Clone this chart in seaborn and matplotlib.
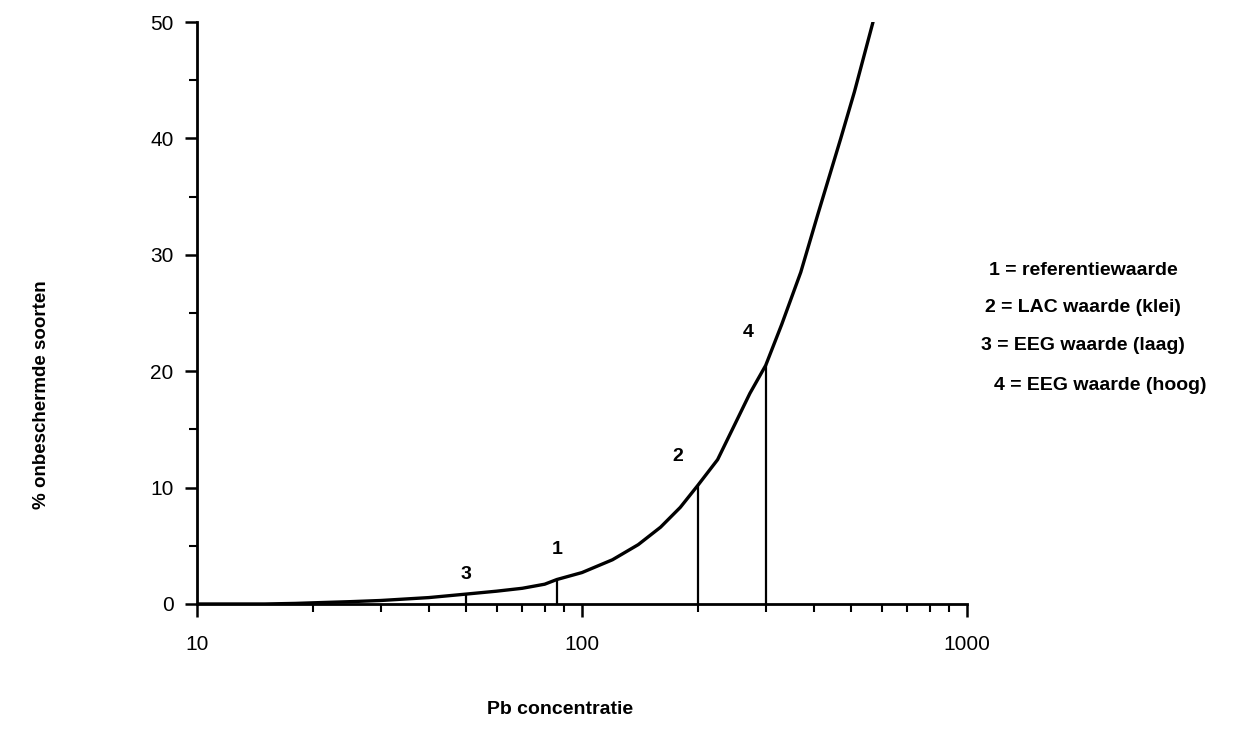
import matplotlib
matplotlib.use("Agg")
import matplotlib.pyplot as plt
import seaborn as sns
import numpy as np
import pandas as pd
from matplotlib.ticker import FixedLocator, NullFormatter

# ---- data ----
pb_conc = [10, 15, 18, 20, 25, 30, 40, 50, 60, 70, 80, 86, 100, 120, 140, 160, 180,
           200, 225, 250, 273, 300, 330, 370, 410, 470, 510, 570]
pct_unprotected = [0, 0, 0.05, 0.1, 0.2, 0.3, 0.55, 0.85, 1.1, 1.35, 1.7, 2.1, 2.7, 3.8,
                   5.1, 6.6, 8.3, 10.2, 12.4, 15.5, 18.1, 20.5, 24.0, 28.5, 33.5, 40.0, 44.0, 50.0]

marker_ids = ["1", "2", "3", "4"]
marker_x = [86, 200, 50, 300]
marker_y = [2.1, 10.2, 0.85, 20.5]
label_x = [86, 177, 50, 270]
label_y = [4.7, 12.7, 2.5, 23.3]

legend_lines = ["1 = referentiewaarde", "2 = LAC waarde (klei)",
                "3 = EEG waarde (laag)", "4 = EEG waarde (hoog)"]

y_ticks = [0, 10, 20, 30, 40, 50]
x_ticks = [10, 100, 1000]
x_tick_labels = ["10", "100", "1000"]

# ---- style ----
sns.set_style("ticks")
plt.rcParams['font.family'] = ['Liberation Sans', 'DejaVu Sans']
plt.rcParams['text.color'] = 'black'

fig = plt.figure(figsize=(12.5, 7.39), dpi=100)
ax = fig.add_axes([0.1576, 0.1827, 0.7736 - 0.1576, 0.9702 - 0.1827])

df = pd.DataFrame({"Pb": pb_conc, "pct": pct_unprotected})
sns.lineplot(data=df, x="Pb", y="pct", ax=ax, color="black", linewidth=2.4,
             estimator=None, sort=True)

for mx, my in zip(marker_x, marker_y):
    ax.vlines(mx, 0, my, color="black", linewidth=1.6)

for t, lx, ly in zip(marker_ids, label_x, label_y):
    ax.text(lx, ly, t, ha="center", va="center", fontsize=14, fontweight="bold",
            color="black")

ax.set_xscale("log")
ax.set_xlim(10, 1000)
ax.set_ylim(0, 50)
ax.set_xticks(x_ticks)
ax.set_xticklabels(x_tick_labels, fontsize=15)
ax.xaxis.set_minor_locator(FixedLocator([20, 30, 40, 50, 60, 70, 80, 90,
                                          200, 300, 400, 500, 600, 700, 800, 900]))
ax.xaxis.set_minor_formatter(NullFormatter())
ax.set_yticks(y_ticks)
ax.set_yticklabels([str(v) for v in y_ticks], fontsize=15)
ax.yaxis.set_minor_locator(FixedLocator([5, 15, 25, 35, 45]))

ax.tick_params(axis="both", which="major", direction="out", length=9, width=1.8,
               color="black", labelcolor="black")
ax.tick_params(axis="both", which="minor", direction="out", length=6, width=1.5,
               color="black")
ax.tick_params(axis="x", which="major", pad=13)
ax.tick_params(axis="y", which="major", pad=8)

for s in ["top", "right"]:
    ax.spines[s].set_visible(False)
for s in ["left", "bottom"]:
    ax.spines[s].set_linewidth(2.0)
    ax.spines[s].set_color("black")

ax.set_xlabel("")
ax.set_ylabel("")

fig.text(560 / 1250, 1 - 710 / 739, "Pb concentratie", ha="center", va="center",
         fontsize=14, fontweight="bold", color="black")
fig.text(42 / 1250, 1 - 395 / 739, "% onbeschermde soorten", ha="center", va="center",
         rotation=90, fontsize=13.5, fontweight="bold", color="black")

legend_y = [270, 308, 346, 385]
legend_cx = [1083, 1083, 1083, 1100]
for t, cx, cy in zip(legend_lines, legend_cx, legend_y):
    fig.text(cx / 1250, 1 - cy / 739, t, ha="center", va="center", fontsize=14,
             fontweight="semibold", color="black")

fig.savefig("out.png", dpi=100, facecolor="white")
